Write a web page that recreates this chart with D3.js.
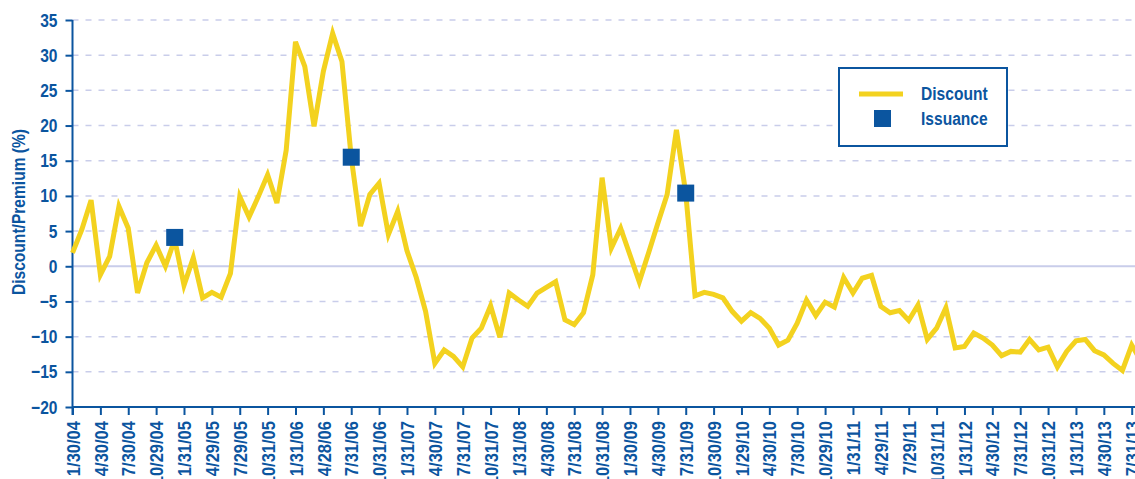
<!DOCTYPE html>
<html>
<head>
<meta charset="utf-8">
<script src="https://cdnjs.cloudflare.com/ajax/libs/d3/7.8.5/d3.min.js"></script>
<style>
  body { margin: 0; background: #fff; }
  text { font-family: "Liberation Sans", Arial, sans-serif; font-weight: bold; fill: #0b559f; }
</style>
</head>
<body>
<script>
// quarterly tick labels (month index 0, 3, 6, ...)
var tickLabels = ["1/30/04","4/30/04","7/30/04","10/29/04","1/31/05","4/29/05","7/29/05","10/31/05",
  "1/31/06","4/28/06","7/31/06","10/31/06","1/31/07","4/30/07","7/31/07","10/31/07",
  "1/31/08","4/30/08","7/31/08","10/31/08","1/30/09","4/30/09","7/31/09","10/30/09",
  "1/29/10","4/30/10","7/30/10","10/29/10","1/31/11","4/29/11","7/29/11","10/31/11",
  "1/31/12","4/30/12","7/31/12","10/31/12","1/31/13","4/30/13","7/31/13"]

// monthly discount/premium (%) starting 1/04
var discount = [1.9,5.2,9.4,-1.2,1.4,8.5,5.4,-3.8,0.5,3.0,0.0,3.8,
  -2.7,1.2,-4.5,-3.7,-4.4,-1.0,9.9,7.0,9.9,13.0,9.0,16.5,
  31.9,28.4,19.9,27.7,33.1,29.1,15.5,5.7,10.2,11.8,4.5,7.8,
  2.2,-1.6,-6.4,-13.8,-11.9,-12.8,-14.3,-10.2,-8.8,-5.6,-10.1,-3.8,
  -4.8,-5.7,-3.8,-3.0,-2.2,-7.6,-8.3,-6.6,-1.2,12.6,2.6,5.4,
  1.6,-2.2,1.9,6.1,10.2,19.4,10.4,-4.2,-3.7,-4.0,-4.5,-6.4,
  -7.8,-6.6,-7.4,-8.8,-11.2,-10.5,-8.1,-4.8,-7.0,-5.1,-5.8,-1.6,
  -3.8,-1.7,-1.3,-5.7,-6.6,-6.3,-7.7,-5.5,-10.4,-8.8,-5.9,-11.6,
  -11.4,-9.5,-10.2,-11.2,-12.7,-12.1,-12.2,-10.4,-11.9,-11.5,-14.3,-12.1,
  -10.6,-10.4,-12.0,-12.6,-13.8,-14.8,-11.2,-13.5]

// issuance markers: month index and value
var issueMonth = [11, 30, 66]
var issueValue = [4.1, 15.5, 10.4]

var yTicks = [-20,-15,-10,-5,0,5,10,15,20,25,30,35]

const w = 1135;
const h = 479;
const blue = "#0b559f";
const yellow = "#f3d21f";
const grid = "#c9cdea";
const narrow = " scale(0.82,1)"; // squeeze text like a narrow face

const xScale = d3.scaleLinear()
                 .domain([0, 114])
                 .range([72.5, 1131.7]);

const yScale = d3.scaleLinear()
                 .domain([-20, 35])
                 .range([407, 20]);

const svg = d3.select("body")
              .append("svg")
              .attr("width", w)
              .attr("height", h);

//gridlines
svg.selectAll("line.grid")
   .data(yTicks.filter(d => d != -20))
   .enter()
   .append("line")
   .attr("class", "grid")
   .attr("x1", 72.5)
   .attr("x2", w)
   .attr("y1", d => yScale(d))
   .attr("y2", d => yScale(d))
   .attr("stroke", grid)
   .attr("stroke-width", d => d == 0 ? 2 : 1.5)
   .attr("stroke-dasharray", d => d == 0 ? null : "6,7");

//y axis
const yAxis = d3.axisLeft(yScale)
                .tickValues(yTicks)
                .tickSize(7)
                .tickPadding(8);

svg.append("g")
   .attr("transform", "translate(72.5, 0)")
   .call(yAxis)
   .call(g => g.select(".domain").attr("d", "M0,20V415"))
   .selectAll("text")
   .style("font-size", "19px")
   .attr("x", 0)
   .attr("transform", "translate(-15,0)" + narrow);

//x axis
const xAxis = d3.axisBottom(xScale)
                .tickValues(d3.range(0, 115, 3))
                .tickFormat((d, i) => tickLabels[i])
                .tickSize(8)
                .tickPadding(6);

svg.append("g")
   .attr("transform", "translate(0, 407)")
   .call(xAxis)
   .call(g => g.select(".domain").attr("d", "M72.5,0H" + w))
   .selectAll("text")
   .style("font-size", "19px")
   .attr("text-anchor", "end")
   .attr("x", 0)
   .attr("y", 0)
   .attr("dy", "0.35em")
   .attr("transform", "rotate(-90) translate(-14,0) scale(0.87,1)");

svg.selectAll(".tick line, .domain")
   .attr("stroke", blue)
   .attr("stroke-width", 2);

//y label
svg.append("text")
   .attr("transform", "translate(25, 212) rotate(-90)" + narrow)
   .attr("text-anchor", "middle")
   .style("font-size", "19px")
   .text("Discount/Premium (%)");

//discount line
const line = d3.line()
               .x((d, i) => xScale(i))
               .y(d => yScale(d));

svg.append("path")
   .datum(discount)
   .attr("d", line)
   .attr("fill", "none")
   .attr("stroke", yellow)
   .attr("stroke-width", 5)
   .attr("stroke-linejoin", "miter");

//issuance squares
svg.selectAll("rect.issue")
   .data(issueMonth)
   .enter()
   .append("rect")
   .attr("class", "issue")
   .attr("x", d => xScale(d) - 8.5)
   .attr("y", (d, i) => yScale(issueValue[i]) - 8.5)
   .attr("width", 17)
   .attr("height", 17)
   .attr("fill", blue);

//legend
const legend = svg.append("g");
legend.append("rect")
      .attr("x", 839)
      .attr("y", 68)
      .attr("width", 168)
      .attr("height", 78)
      .attr("fill", "#fff")
      .attr("stroke", blue)
      .attr("stroke-width", 2);
legend.append("line")
      .attr("x1", 859).attr("x2", 903)
      .attr("y1", 94).attr("y2", 94)
      .attr("stroke", yellow)
      .attr("stroke-width", 5);
legend.append("rect")
      .attr("x", 874).attr("y", 110)
      .attr("width", 17).attr("height", 17)
      .attr("fill", blue);
legend.append("text")
      .attr("transform", "translate(921,100)" + narrow)
      .style("font-size", "19px")
      .text("Discount");
legend.append("text")
      .attr("transform", "translate(921,125)" + narrow)
      .style("font-size", "19px")
      .text("Issuance");
</script>
</body>
</html>
